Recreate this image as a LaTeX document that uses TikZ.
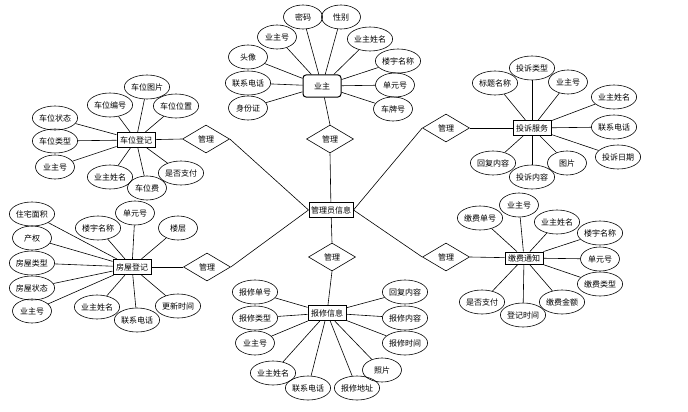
\documentclass[tikz,border=0pt]{standalone}
\usepackage{fontspec}
\setmainfont{Noto Sans CJK SC}
\usetikzlibrary{shapes.geometric}

\begin{document}
\begin{tikzpicture}[x=1pt,y=-1pt,
    font=\fontsize{8}{9}\selectfont, line width=0.6pt,
    shiti/.style={draw, line width=1pt, minimum width=38pt, minimum height=15pt, inner sep=2pt},
    shuxing/.style={draw, ellipse, minimum width=39pt, minimum height=24pt, inner sep=0pt},
    guanxi/.style={draw, diamond, minimum width=47pt, minimum height=28pt, inner sep=0pt}]
\useasboundingbox (0,0) rectangle (688,412);

% Entites
\node[shiti, rounded corners=3pt, minimum height=22pt] (yezhu) at (322,86) {业主};
\node[shiti] (admin) at (331,210) {管理员信息};
\node[shiti] (tousu) at (532,128) {投诉服务};
\node[shiti] (chewei) at (136,140) {车位登记};
\node[shiti] (fangwu) at (132,267) {房屋登记};
\node[shiti] (baoxiu) at (327,313) {报修信息};
\node[shiti, minimum height=12pt, inner sep=1pt] (jiaofei) at (524,258) {缴费通知};

% Relations
\node[guanxi] (gl1) at (330,139) {管理};
\node[guanxi] (gl2) at (206,139) {管理};
\node[guanxi] (gl3) at (446,128) {管理};
\node[guanxi] (gl4) at (207,267) {管理};
\node[guanxi] (gl5) at (332,257) {管理};
\node[guanxi] (gl6) at (446,257) {管理};

\draw (yezhu) -- (gl1.north);   \draw (gl1.south) -- (admin);
\draw (chewei) -- (gl2.west);   \draw (gl2.east) -- (admin.west);
\draw (tousu) -- (gl3.east);    \draw (gl3.west) -- (admin.east);
\draw (fangwu) -- (gl4.west);   \draw (gl4.east) -- (admin.west);
\draw (gl5.north) -- (admin);   \draw (gl5.south) -- (baoxiu);
\draw (jiaofei) -- (gl6.east);  \draw (gl6.west) -- (admin.east);

% Attributs : yezhu
\node[shuxing] (yz1) at (303,17) {密码};        \draw (yezhu) -- (yz1);
\node[shuxing] (yz2) at (341,17) {性别};        \draw (yezhu) -- (yz2);
\node[shuxing] (yz3) at (277,37) {业主号};      \draw (yezhu) -- (yz3);
\node[shuxing] (yz4) at (370,39) {业主姓名};    \draw (yezhu) -- (yz4);
\node[shuxing] (yz5) at (248,57) {头像};        \draw (yezhu) -- (yz5);
\node[shuxing] (yz6) at (398,61) {楼宇名称};    \draw (yezhu) -- (yz6);
\node[shuxing] (yz7) at (248,83) {联系电话};    \draw (yezhu) -- (yz7);
\node[shuxing] (yz8) at (395,85) {单元号};      \draw (yezhu) -- (yz8);
\node[shuxing] (yz9) at (248,108) {身份证};     \draw (yezhu) -- (yz9);
\node[shuxing] (yz10) at (393,109) {车牌号};    \draw (yezhu) -- (yz10);

% Attributs : tousu
\node[shuxing] (ts1) at (495,83) {标题名称};    \draw (tousu) -- (ts1);
\node[shuxing] (ts2) at (532,68) {投诉类型};    \draw (tousu) -- (ts2);
\node[shuxing] (ts3) at (568,82) {业主号};      \draw (tousu) -- (ts3);
\node[shuxing] (ts4) at (614,97) {业主姓名};    \draw (tousu) -- (ts4);
\node[shuxing] (ts5) at (614,127) {联系电话};   \draw (tousu) -- (ts5);
\node[shuxing] (ts6) at (618,157) {投诉日期};   \draw (tousu) -- (ts6);
\node[shuxing] (ts7) at (567,163) {图片};       \draw (tousu) -- (ts7);
\node[shuxing] (ts8) at (532,177) {投诉内容};   \draw (tousu) -- (ts8);
\node[shuxing] (ts9) at (493,163) {回复内容};   \draw (tousu) -- (ts9);

% Attributs : chewei
\node[shuxing] (cw1) at (147,87) {车位图片};    \draw (chewei) -- (cw1);
\node[shuxing] (cw2) at (110,105) {车位编号};   \draw (chewei) -- (cw2);
\node[shuxing] (cw3) at (176,106) {车位位置};   \draw (chewei) -- (cw3);
\node[shuxing] (cw4) at (55,118) {车位状态};    \draw (chewei) -- (cw4);
\node[shuxing] (cw5) at (55,141) {车位类型};    \draw (chewei) -- (cw5);
\node[shuxing] (cw6) at (55,167) {业主号};      \draw (chewei) -- (cw6);
\node[shuxing] (cw7) at (110,177) {业主姓名};   \draw (chewei) -- (cw7);
\node[shuxing] (cw8) at (147,188) {车位费};     \draw (chewei) -- (cw8);
\node[shuxing] (cw9) at (181,173) {是否支付};   \draw (chewei) -- (cw9);

% Attributs : fangwu
\node[shuxing] (fw1) at (32,214) {住宅面积};    \draw (fangwu) -- (fw1);
\node[shuxing] (fw2) at (32,238) {产权};        \draw (fangwu) -- (fw2);
\node[shuxing] (fw3) at (32,263) {房屋类型};    \draw (fangwu) -- (fw3);
\node[shuxing] (fw4) at (32,288) {房屋状态};    \draw (fangwu) -- (fw4);
\node[shuxing] (fw5) at (32,311) {业主号};      \draw (fangwu) -- (fw5);
\node[shuxing] (fw6) at (98,228) {楼宇名称};    \draw (fangwu) -- (fw6);
\node[shuxing] (fw7) at (135,213) {单元号};     \draw (fangwu) -- (fw7);
\node[shuxing] (fw8) at (178,228) {楼层};       \draw (fangwu) -- (fw8);
\node[shuxing] (fw9) at (97,307) {业主姓名};    \draw (fangwu) -- (fw9);
\node[shuxing] (fw10) at (137,320) {联系电话};  \draw (fangwu) -- (fw10);
\node[shuxing] (fw11) at (178,306) {更新时间};  \draw (fangwu) -- (fw11);

% Attributs : baoxiu
\node[shuxing] (bx1) at (255,292) {报修单号};   \draw (baoxiu) -- (bx1);
\node[shuxing] (bx2) at (255,318) {报修类型};   \draw (baoxiu) -- (bx2);
\node[shuxing] (bx3) at (255,343) {业主号};     \draw (baoxiu) -- (bx3);
\node[shuxing] (bx4) at (273,373) {业主姓名};   \draw (baoxiu) -- (bx4);
\node[shuxing] (bx5) at (308,388) {联系电话};   \draw (baoxiu) -- (bx5);
\node[shuxing] (bx6) at (357,388) {报修地址};   \draw (baoxiu) -- (bx6);
\node[shuxing] (bx7) at (382,370) {照片};       \draw (baoxiu) -- (bx7);
\node[shuxing] (bx8) at (405,343) {报修时间};   \draw (baoxiu) -- (bx8);
\node[shuxing] (bx9) at (405,318) {报修内容};   \draw (baoxiu) -- (bx9);
\node[shuxing] (bx10) at (405,292) {回复内容};  \draw (baoxiu) -- (bx10);

% Attributs : jiaofei
\node[shuxing] (jf1) at (480,218) {缴费单号};   \draw (jiaofei) -- (jf1);
\node[shuxing] (jf2) at (519,205) {业主号};     \draw (jiaofei) -- (jf2);
\node[shuxing] (jf3) at (557,222) {业主姓名};   \draw (jiaofei) -- (jf3);
\node[shuxing] (jf4) at (600,233) {楼宇名称};   \draw (jiaofei) -- (jf4);
\node[shuxing] (jf5) at (600,259) {单元号};     \draw (jiaofei) -- (jf5);
\node[shuxing] (jf6) at (600,284) {缴费类型};   \draw (jiaofei) -- (jf6);
\node[shuxing] (jf7) at (562,302) {缴费金额};   \draw (jiaofei) -- (jf7);
\node[shuxing] (jf8) at (523,315) {登记时间};   \draw (jiaofei) -- (jf8);
\node[shuxing] (jf9) at (482,302) {是否支付};   \draw (jiaofei) -- (jf9);
\end{tikzpicture}
\end{document}
